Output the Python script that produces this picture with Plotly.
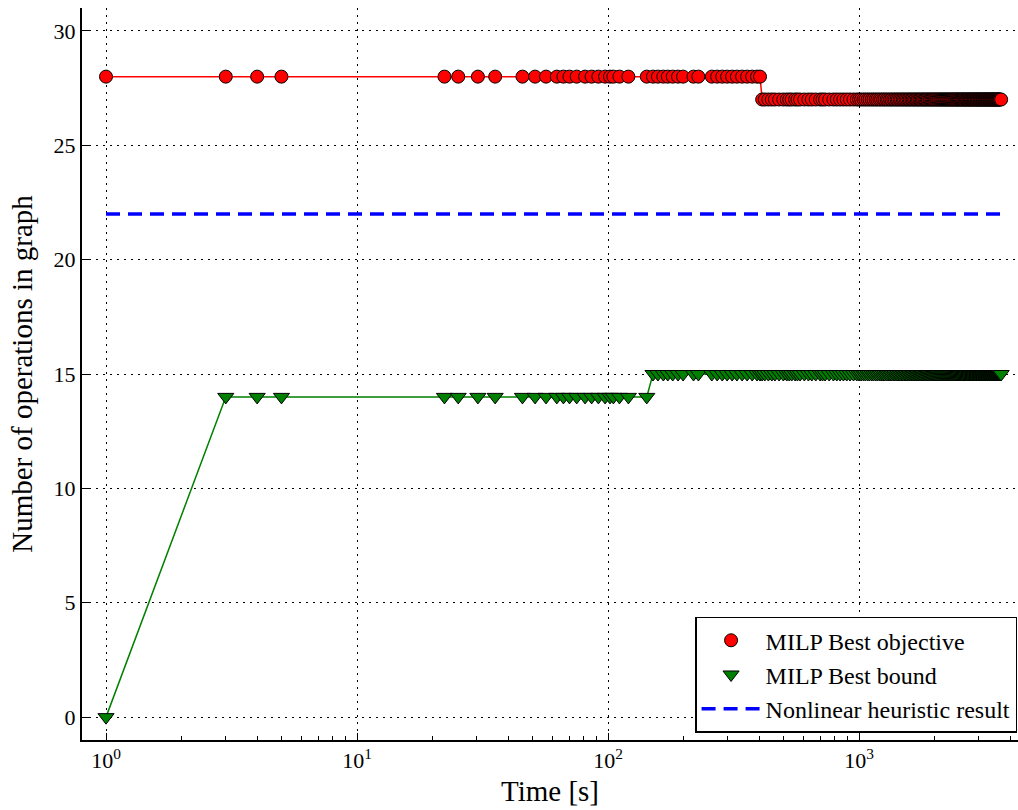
import plotly.graph_objects as go

# ---- data ----
time_s = [
    1, 3, 4, 5, 22.3, 25.3, 30.3, 35.5, 45.6, 51.2, 56.6, 62.5, 66.4, 70.2, 75, 81,
    86, 91.5, 97.3, 101.8, 105, 111, 120.5, 142.6, 151, 158, 166, 173, 181, 190, 199,
    219, 229, 259, 272, 285, 298, 312, 326, 342, 358, 375, 392, 403,
    411, 421, 435, 449, 462, 480, 499, 515, 527, 539, 556, 568, 582, 605, 628, 648,
    672, 699, 715, 732, 760, 790, 815, 840, 866, 893, 920, 950, 979,
    1000, 1019, 1041, 1060, 1082, 1101, 1123, 1142, 1164, 1183,
    1205, 1224, 1246, 1265, 1287, 1306, 1328, 1347, 1369, 1388,
    1410, 1429, 1451, 1470, 1492, 1511, 1533, 1552, 1574, 1593,
    1615, 1634, 1656, 1675, 1697, 1716, 1738, 1757, 1779, 1798,
    1820, 1839, 1861, 1880, 1902, 1921, 1943, 1962, 1984, 2003,
    2025, 2044, 2066, 2085, 2107, 2126, 2148, 2167, 2189, 2208,
    2230, 2249, 2271, 2290, 2312, 2331, 2353, 2372, 2394, 2413,
    2435, 2454, 2476, 2495, 2517, 2536, 2558, 2577, 2599, 2618,
    2640, 2659, 2681, 2700, 2722, 2741, 2763, 2782, 2804, 2823,
    2845, 2864, 2886, 2905, 2927, 2946, 2968, 2987, 3009, 3028,
    3050, 3069, 3091, 3110, 3132, 3151, 3173, 3192, 3214, 3233,
    3255, 3274, 3296, 3315, 3337, 3356, 3378, 3397, 3419, 3438,
    3460, 3479, 3501, 3520, 3542, 3561, 3583, 3602, 3624, 3643,
    3680,
]

best_objective = [
    28, 28, 28, 28, 28, 28, 28, 28, 28, 28, 28, 28, 28, 28, 28, 28, 28, 28, 28, 28,
    28, 28, 28, 28, 28, 28, 28, 28, 28, 28, 28, 28, 28, 28, 28, 28, 28, 28, 28, 28,
    28, 28, 28, 28,
    27, 27, 27, 27, 27, 27, 27, 27, 27, 27, 27, 27, 27, 27, 27, 27, 27, 27, 27, 27,
    27, 27, 27, 27, 27, 27, 27, 27, 27, 27, 27, 27, 27, 27, 27, 27, 27, 27, 27, 27,
    27, 27, 27, 27, 27, 27, 27, 27, 27, 27, 27, 27, 27, 27, 27, 27, 27, 27, 27, 27,
    27, 27, 27, 27, 27, 27, 27, 27, 27, 27, 27, 27, 27, 27, 27, 27, 27, 27, 27, 27,
    27, 27, 27, 27, 27, 27, 27, 27, 27, 27, 27, 27, 27, 27, 27, 27, 27, 27, 27, 27,
    27, 27, 27, 27, 27, 27, 27, 27, 27, 27, 27, 27, 27, 27, 27, 27, 27, 27, 27, 27,
    27, 27, 27, 27, 27, 27, 27, 27, 27, 27, 27, 27, 27, 27, 27, 27, 27, 27, 27, 27,
    27, 27, 27, 27, 27, 27, 27, 27, 27, 27, 27, 27, 27, 27, 27, 27, 27, 27, 27, 27,
]

best_bound = [
    0,
    14, 14, 14, 14, 14, 14, 14, 14, 14, 14, 14, 14, 14, 14, 14, 14, 14, 14, 14, 14,
    14, 14, 14,
    15, 15, 15, 15, 15, 15, 15, 15, 15, 15, 15, 15, 15, 15, 15, 15, 15, 15, 15, 15,
    15, 15, 15, 15, 15, 15, 15, 15, 15, 15, 15, 15, 15, 15, 15, 15, 15, 15, 15, 15,
    15, 15, 15, 15, 15, 15, 15, 15, 15, 15, 15, 15, 15, 15, 15, 15, 15, 15, 15, 15,
    15, 15, 15, 15, 15, 15, 15, 15, 15, 15, 15, 15, 15, 15, 15, 15, 15, 15, 15, 15,
    15, 15, 15, 15, 15, 15, 15, 15, 15, 15, 15, 15, 15, 15, 15, 15, 15, 15, 15, 15,
    15, 15, 15, 15, 15, 15, 15, 15, 15, 15, 15, 15, 15, 15, 15, 15, 15, 15, 15, 15,
    15, 15, 15, 15, 15, 15, 15, 15, 15, 15, 15, 15, 15, 15, 15, 15, 15, 15, 15, 15,
    15, 15, 15, 15, 15, 15, 15, 15, 15, 15, 15, 15, 15, 15, 15, 15, 15, 15, 15, 15,
    15, 15, 15, 15, 15, 15, 15, 15, 15, 15, 15, 15, 15, 15, 15, 15, 15, 15, 15, 15,
]

heuristic_time = [1, 3680]
heuristic_value = [22, 22]

x_tick_vals = [1, 10, 100, 1000]
x_tick_text = ["10<sup>0</sup>", "10<sup>1</sup>", "10<sup>2</sup>", "10<sup>3</sup>"]
y_tick_vals = [0, 5, 10, 15, 20, 25, 30]

assert len(time_s) == len(best_objective) == len(best_bound), (
    len(time_s), len(best_objective), len(best_bound))

FONT = "Liberation Serif"

fig = go.Figure()

fig.add_trace(go.Scatter(x=time_s, y=best_objective, mode="lines",
                         line=dict(color="red", width=1.5), showlegend=False,
                         hoverinfo="skip"))
fig.add_trace(go.Scatter(x=time_s, y=best_objective, mode="markers",
                         name="MILP Best objective",
                         marker=dict(symbol="circle", size=13, color="red",
                                     line=dict(color="black", width=1))))
fig.add_trace(go.Scatter(x=time_s, y=best_bound, mode="lines",
                         line=dict(color="green", width=1.5), showlegend=False,
                         hoverinfo="skip"))
fig.add_trace(go.Scatter(x=time_s, y=best_bound, mode="markers",
                         name="MILP Best bound",
                         marker=dict(symbol="triangle-down", size=14, color="green",
                                     line=dict(color="black", width=1))))
fig.add_trace(go.Scatter(x=heuristic_time, y=heuristic_value, mode="lines",
                         name="Nonlinear heuristic result",
                         line=dict(color="blue", width=3.5, dash="14px,8px")))

minor_vals = []
for base in [1, 10, 100, 1000]:
    for m in range(2, 10):
        minor_vals.append(base * m)

fig.update_layout(
    width=1018, height=810,
    margin=dict(l=82, r=0, t=8, b=70),
    paper_bgcolor="white", plot_bgcolor="white",
    font=dict(family=FONT, size=22, color="black"),
    legend=dict(x=0.999, y=0.01, xanchor="right", yanchor="bottom",
                bgcolor="white", bordercolor="black", borderwidth=1.5,
                itemwidth=59,
                font=dict(family=FONT, size=24), tracegroupgap=0),
    xaxis=dict(
        type="log", range=[-0.0956, 3.633],
        tickmode="array", tickvals=x_tick_vals, ticktext=x_tick_text,
        ticks="inside", ticklen=7, tickcolor="black", tickwidth=1,
        showgrid=True, gridcolor="black", griddash="2px,5px", gridwidth=1,
        showline=True, linecolor="black", linewidth=2,
        zeroline=False,
        minor=dict(tickmode="array", tickvals=minor_vals, ticks="inside",
                   ticklen=4, tickcolor="black", showgrid=False),
        title=dict(text="Time [s]", font=dict(family=FONT, size=29), standoff=8),
        tickfont=dict(family=FONT, size=22),
    ),
    yaxis=dict(
        range=[-1, 31],
        tickmode="array", tickvals=y_tick_vals,
        ticks="inside", ticklen=7, tickcolor="black", tickwidth=1,
        showgrid=True, gridcolor="black", griddash="2px,5px", gridwidth=1,
        showline=True, linecolor="black", linewidth=2,
        zeroline=False,
        title=dict(text="Number of operations in graph",
                   font=dict(family=FONT, size=29), standoff=12),
        tickfont=dict(family=FONT, size=22),
    ),
)

fig.write_html("out.html", config={"displayModeBar": False},
               post_script="document.body.style.margin='0';document.body.style.overflow='hidden';")
